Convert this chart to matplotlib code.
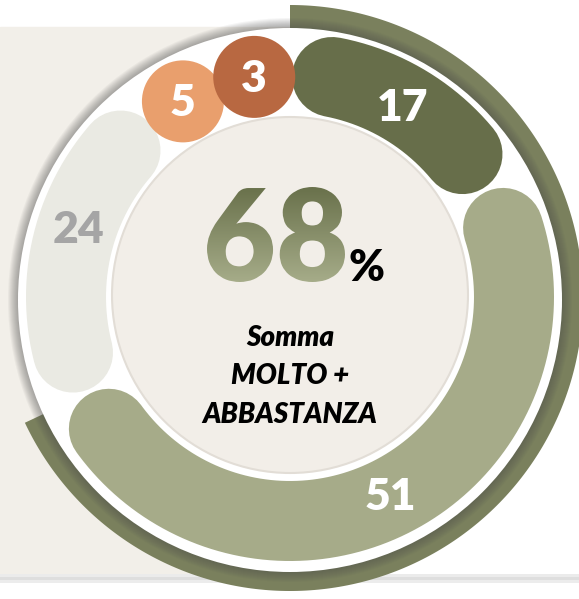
import numpy as np
import matplotlib
matplotlib.use("Agg")
import matplotlib.pyplot as plt
from matplotlib.patches import Circle, Polygon, Rectangle, PathPatch
from matplotlib.textpath import TextPath
from matplotlib.font_manager import FontProperties
from matplotlib.transforms import Affine2D

plt.rcParams['font.family'] = ['Lato', 'DejaVu Sans']

# data
labels = ["17", "51", "24", "5", "3"]
values = [17, 51, 24, 5, 3]
colors = ["#676e4a", "#a6ab89", "#eaeae3", "#e99f6d", "#b86841"]
label_colors = ["white", "white", "#a5a5a5", "white", "white"]
total_pct = 68          # molto + abbastanza
caption = ["Somma", "MOLTO +", "ABBASTANZA"]

W, H = 579, 599
fig = plt.figure(figsize=(W / 100, H / 100), dpi=100)
ax = fig.add_axes([0, 0, 1, 1])
ax.axis("off")


def pt(cx, cy, r, ang):
    a = np.radians(ang)
    return cx + r * np.sin(a), cy - r * np.cos(a)


def px2pt(v):
    return v * 72 / 100


# background panel and bottom rule
ax.add_patch(Rectangle((0, 27), 380, 547, color="#f2efe9", zorder=1))
for y0, c in [(574, "#ebebeb"), (577, "#dedede"), (580, "#ececec")]:
    ax.add_patch(Rectangle((0, y0), W, 3, color=c, lw=0, zorder=1))

# outer arc for the 68 %
acx, acy = 290, 298
th = np.linspace(0, total_pct / 100 * 360, 300)
ox, oy = pt(acx, acy, 293, th)
ix, iy = pt(acx, acy, 262, th[::-1])
ax.add_patch(Polygon(np.column_stack([np.r_[ox, ix], np.r_[oy, iy]]),
                     closed=True, color="#7a805d", lw=0, zorder=2))

# white disc with soft shadow
wcx, wcy, wr = 290, 300, 272
for k in range(10, 0, -1):
    ax.add_patch(Circle((wcx, wcy), wr + k, color="#505050", alpha=0.055, lw=0, zorder=3))
ax.add_patch(Circle((wcx, wcy), wr, color="white", lw=0, zorder=4))

# inner disc
ax.add_patch(Circle((290, 295), 178, facecolor="#f2eee8", edgecolor="#e2ddd6",
                    lw=1.5, zorder=5))

# ring segments
rcx, rcy, rr, rw = 290, 297, 224, 80
cap = np.degrees((rw / 2) / rr)
gap = 0.6
bounds = np.cumsum([0] + values) / sum(values) * 360
small = [i for i in range(len(values)) if bounds[i + 1] - bounds[i] < 2 * cap]
# small values become discs stacked back from the top
small_pos = {}
c = 360 - cap + 1
for i in reversed(small):
    small_pos[i] = c
    c -= 2 * cap - 1
first_small = min(small_pos.values()) if small_pos else 360

lab_font = dict(fontsize=32, fontweight="heavy", ha="center", va="center", zorder=8)
for i, v in enumerate(values):
    a0, a1 = bounds[i], bounds[i + 1]
    mid = (a0 + a1) / 2
    if i in small_pos:
        x, y = pt(rcx, rcy, rr - 1, small_pos[i])
        ax.add_patch(Circle((x, y), 41, color=colors[i], lw=0, zorder=6 + i * 0.1))
        ax.text(x, y + 2, labels[i], color=label_colors[i], **lab_font)
        continue
    s = a0 + cap + gap
    e = min(a1 - cap - gap, first_small - 2 * cap)
    t = np.linspace(s, e, 200)
    x, y = pt(rcx, rcy, rr, t)
    ax.plot(x, y, color=colors[i], lw=px2pt(rw), solid_capstyle="round", zorder=6)
    lx, ly = pt(rcx, rcy, rr - 2, mid)
    ax.text(lx, ly + 2, labels[i], color=label_colors[i], **lab_font)

# big 68 with vertical gradient
fp = FontProperties(family="Lato", weight="heavy")
tp = TextPath((0, 0), str(total_pct), size=100, prop=fp)
bb = tp.get_extents()
x0, x1, ytop, ybot = 207, 345, 187, 282
tr = Affine2D().translate(-bb.x0, -bb.y0).scale((x1 - x0) / bb.width,
                                                -(ybot - ytop) / bb.height).translate(x0, ybot)
clip = PathPatch(tr.transform_path(tp), facecolor="none", edgecolor="none", zorder=9)
ax.add_patch(clip)
c_top = np.array(matplotlib.colors.to_rgb("#68704a"))
c_bot = np.array(matplotlib.colors.to_rgb("#a7ad8a"))
f = np.linspace(0, 1, 120)[:, None, None]
grad = c_top * (1 - f) + c_bot * f
im = ax.imshow(grad, extent=[x0 - 2, x1 + 2, ybot + 2, ytop - 2], aspect="auto",
               interpolation="bilinear", zorder=9)
im.set_clip_path(clip)
ax.text(348, 281, "%", fontsize=31, fontweight="heavy", color="black",
        ha="left", va="baseline", zorder=9)

for k, line in enumerate(caption):
    ax.text(290, 338 + k * 38.5, line, fontsize=20, fontweight="heavy", style="italic",
            color="black", ha="center", va="center", zorder=9)

ax.set_xlim(0, W)
ax.set_ylim(H, 0)
ax.set_aspect("auto")

plt.savefig("out.png", dpi=100)
